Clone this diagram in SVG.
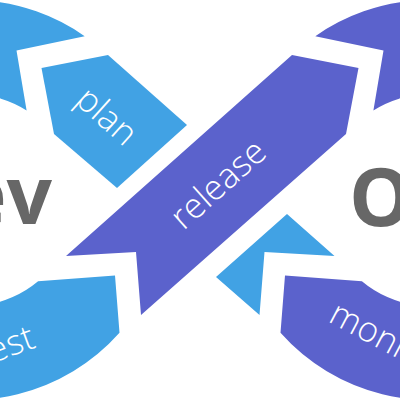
<svg xmlns="http://www.w3.org/2000/svg" width="400" height="400" viewBox="0 0 400 400">
<style>
.blue{fill:#41a2e4}
.purple{fill:#5b62cc}
.lbl{font-family:"Open Sans","Lato","Liberation Sans",sans-serif;font-weight:300;font-size:35px;fill:#ffffff}
.big{font-family:"Open Sans","Liberation Sans",sans-serif;font-weight:700;font-size:80px;fill:#676767}
</style>
<rect width="400" height="400" fill="#ffffff"/>
<g id="ring-top-left">
<path class="blue" d="M84.7,36.2 A200,200 0 0 0 -230,200 L-136,200 A106,106 0 0 1 26.6,110.4 L16.5,50.5 Z"/>
</g>
<g id="test">
<path class="blue" d="M115,275.5 L119.5,332.8 A200,200 0 0 1 -230,200 L-136,200 A106,106 0 0 0 38.1,281.2 Z"/>
<text class="lbl" transform="translate(37,347) rotate(-20)" text-anchor="end">test</text>
</g>
<g id="ring-top-right">
<path class="purple" d="M315.3,36.2 A200,200 0 0 1 630,200 L536,200 A106,106 0 0 0 373.4,110.4 L383.5,50.5 Z"/>
</g>
<g id="monitor">
<path class="purple" d="M285,275.5 L280.5,332.8 A200,200 0 0 0 630,200 L536,200 A106,106 0 0 1 361.9,281.2 Z"/>
<text class="lbl" transform="translate(327,321) rotate(28)">monitor</text>
</g>
<g id="plan">
<path class="blue" d="M41.5,68 L108,55 L187,125 L117,188 L54,134 Z"/>
<text class="lbl" transform="translate(107,116) rotate(41.8)" text-anchor="middle" y="12">plan</text>
</g>
<g id="plan-tail">
<path class="blue" d="M287,214 L334.5,256 L264.5,252 L259.5,315 L216,277 Z"/>
</g>
<g id="release">
<path class="purple" d="M292,55 L358.5,68 L346,134 L141,315 L136,252 L66,256 Z"/>
<text class="lbl" transform="translate(218,184) rotate(-41.8)" text-anchor="middle" y="12">release</text>
</g>
<g id="dev">
<text class="big" x="52" y="224" text-anchor="end">Dev</text>
</g>
<g id="ops">
<text class="big" x="349" y="226">Ops</text>
</g>
<g id="connectors"></g>
</svg>
